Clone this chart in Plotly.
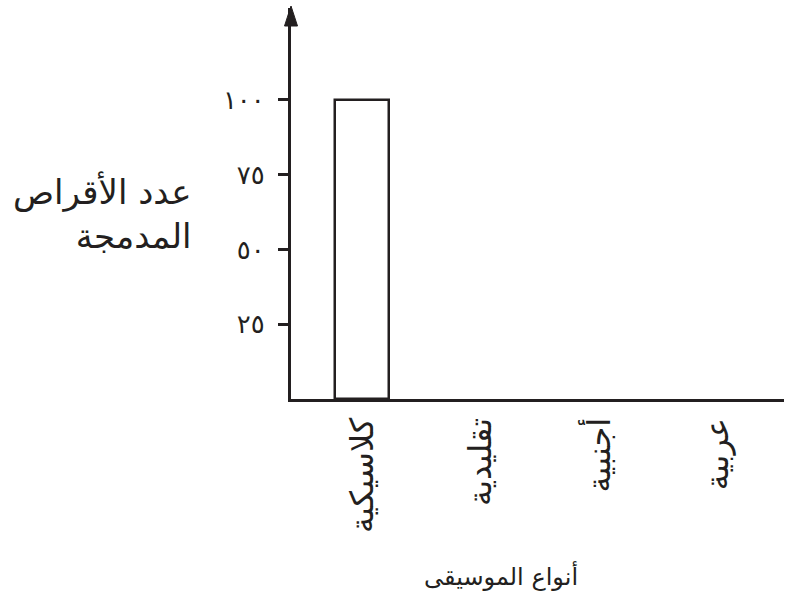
import plotly.graph_objects as go

categories = ["كلاسيكية", "تقليدية", "أجنبية", "عربية"]
values = [100, None, None, None]
y_tickvals = [25, 50, 75, 100]
y_ticktext = ["٢٥", "٥٠", "٧٥", "١٠٠"]
x_title = "أنواع الموسيقى"
y_title = "عدد الأقراص<br>المدمجة"

INK = "#231f20"
FONT = "DejaVu Sans, Noto Sans, sans-serif"

fig = go.Figure()
fig.add_trace(go.Bar(
    x=categories, y=values,
    width=0.45,
    marker=dict(color="white", line=dict(color=INK, width=2.5)),
    showlegend=False,
))

fig.update_layout(
    width=786, height=606,
    margin=dict(l=291, r=2, t=8, b=207),
    paper_bgcolor="white", plot_bgcolor="white",
    font=dict(family=FONT, color=INK),
    bargap=0,
)
fig.update_xaxes(
    type="category", range=[-0.6, 3.56],
    showline=True, linecolor=INK, linewidth=3,
    showgrid=False, zeroline=False, ticks="",
    tickangle=-90, tickfont=dict(size=32, family=FONT, color=INK),
    ticklabelstandoff=3,
)
fig.update_yaxes(
    range=[0, 130.7],
    showline=True, linecolor=INK, linewidth=3,
    showgrid=False, zeroline=False,
    ticks="outside", ticklen=10, tickwidth=2.5, tickcolor=INK,
    tickvals=y_tickvals, ticktext=y_ticktext,
    tickfont=dict(size=26, family=FONT, color=INK),
    ticklabelstandoff=8,
)
# arrow head on the y axis
fig.add_shape(
    type="path", xref="paper", yref="paper",
    xsizemode="pixel", ysizemode="pixel", xanchor=0, yanchor=1,
    path="M -6.5,-18 L 6.5,-18 L 0,2 Z",
    fillcolor=INK, line=dict(color=INK, width=1),
)
fig.add_annotation(
    text=y_title, xref="paper", yref="paper", x=-0.199, y=0.475,
    xanchor="right", yanchor="middle", align="right", showarrow=False,
    font=dict(size=34, family=FONT, color=INK),
)
fig.add_annotation(
    text=x_title, xref="paper", yref="paper", x=0.426, y=-0.452,
    xanchor="center", yanchor="middle", showarrow=False,
    font=dict(size=24, family=FONT, color=INK),
)

fig.write_html("out.html", config={"displayModeBar": False},
               post_script="document.body.style.margin='0';")
